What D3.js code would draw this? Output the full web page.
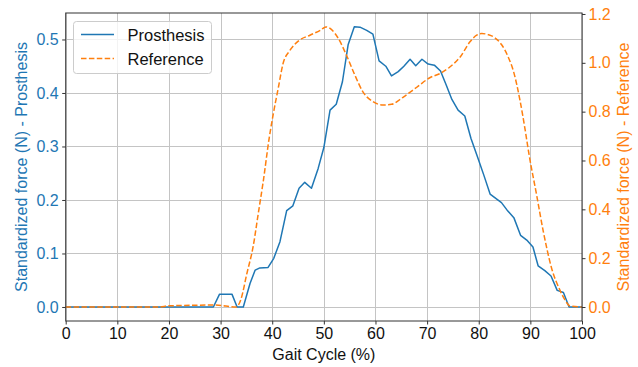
<!DOCTYPE html>
<html>
<head>
<meta charset="utf-8">
<script src="https://cdn.jsdelivr.net/npm/d3@7"></script>
<style>
  html, body { margin: 0; padding: 0; background: #fff; }
  svg { display: block; font-family: "Liberation Sans", Arial, sans-serif; }
</style>
</head>
<body>
<svg id="chart" width="638" height="367"></svg>
<script>
// Gait cycle (%) and standardized force for the prosthesis sensor
const prosGait = [0, 28.6, 29.8, 32.2, 33.2, 34.4, 35.7, 36.7, 37.6, 39.2, 40.3, 41.5, 42.8, 44.0, 45.2,
  46.3, 47.6, 48.9, 50.0, 51.2, 52.4, 53.6, 54.7, 55.9, 57.0, 58.3, 59.5, 60.7, 62.0, 63.1, 64.4, 65.5,
  66.7, 67.8, 69.0, 70.2, 71.4, 72.6, 73.7, 74.8, 76.0, 77.3, 78.5, 79.7, 81.0, 82.2, 84.4, 85.5, 86.8,
  88.1, 89.3, 90.5, 91.5, 92.8, 94.0, 95.2, 96.4, 97.5, 100];
const prosForce = [0, 0, 0.024, 0.024, 0, 0, 0.044, 0.069, 0.073, 0.074, 0.091, 0.122, 0.18, 0.189, 0.222,
  0.233, 0.222, 0.259, 0.298, 0.368, 0.379, 0.421, 0.49, 0.524, 0.523, 0.517, 0.51, 0.46, 0.45, 0.432, 0.44, 0.45,
  0.463, 0.451, 0.463, 0.454, 0.452, 0.441, 0.415, 0.388, 0.368, 0.357, 0.315, 0.282, 0.246, 0.211, 0.195, 0.181, 0.167,
  0.134, 0.125, 0.112, 0.077, 0.068, 0.058, 0.031, 0.027, 0, 0];

// Gait cycle (%) and standardized force for the reference curve
const refGait = [0, 18, 20, 29, 33.0, 33.9, 35.1, 36.3, 37.3, 38.3, 39.4, 40.2, 41.2, 42.1, 43.4, 45.1,
  47.3, 49.3, 50.4, 51.5, 52.8, 54.4, 56.0, 57.6, 59.6, 61.5, 63.1, 65.4, 68.0, 70.6, 72.5, 74.4, 76.4,
  78.3, 79.6, 80.6, 81.9, 83.1, 84.4, 85.7, 86.8, 88.0, 89.0, 89.7, 91.2, 92.5, 94.1, 95.7, 96.7, 97.7, 100];
const refForce = [0, 0, 0.005, 0.008, 0, 0.029, 0.138, 0.247, 0.383, 0.52, 0.69, 0.79, 0.90, 0.997, 1.05, 1.09,
  1.113, 1.133, 1.147, 1.136, 1.10, 1.03, 0.95, 0.88, 0.84, 0.827, 0.83, 0.86, 0.90, 0.94, 0.956, 0.983, 1.024,
  1.086, 1.113, 1.12, 1.115, 1.103, 1.075, 1.024, 0.96, 0.845, 0.724, 0.63, 0.46, 0.31, 0.16, 0.07, 0.029, 0.004, 0];

const xTicks = [0, 10, 20, 30, 40, 50, 60, 70, 80, 90, 100];
const leftTicks = [0, 0.1, 0.2, 0.3, 0.4, 0.5];
const rightTicks = [0, 0.2, 0.4, 0.6, 0.8, 1.0, 1.2];

const seriesNames = ["Prosthesis", "Reference"];
const xLabel = "Gait Cycle (%)";
const leftLabel = "Standardized force (N) - Prosthesis";
const rightLabel = "Standardized force (N) - Reference";

const blue = "#1f77b4", orange = "#ff7f0e";
const m = { left: 65.7, right: 582, top: 13, bottom: 321 };

const svg = d3.select("#chart");

const x = d3.scaleLinear().domain([0, 100]).range([m.left, m.right]);
const yL = d3.scaleLinear().domain([-0.0262, 0.5495]).range([m.bottom, m.top]);
const yR = d3.scaleLinear().domain([-0.0573, 1.204]).range([m.bottom, m.top]);

// grid
const grid = svg.append("g").attr("stroke", "#c4c4c4").attr("stroke-width", 1);
xTicks.forEach(t => grid.append("line")
  .attr("x1", Math.round(x(t)) + 0.5).attr("x2", Math.round(x(t)) + 0.5)
  .attr("y1", m.top).attr("y2", m.bottom));
leftTicks.forEach(t => grid.append("line")
  .attr("x1", m.left).attr("x2", m.right)
  .attr("y1", Math.round(yL(t)) + 0.5).attr("y2", Math.round(yL(t)) + 0.5));

// axes
const fontTick = 16;
const gx = svg.append("g").attr("transform", `translate(0,${m.bottom})`)
  .call(d3.axisBottom(x).tickValues(xTicks).tickSize(3.5).tickPadding(3.5).tickFormat(d3.format("d")));
gx.selectAll("text").attr("fill", "#111").style("font-size", fontTick + "px");

const gl = svg.append("g").attr("transform", `translate(${m.left},0)`)
  .call(d3.axisLeft(yL).tickValues(leftTicks).tickSize(3.5).tickPadding(3.5).tickFormat(d3.format(".1f")));
gl.selectAll("text").attr("fill", blue).style("font-size", fontTick + "px");

const gr = svg.append("g").attr("transform", `translate(${m.right},0)`)
  .call(d3.axisRight(yR).tickValues(rightTicks).tickSize(3.5).tickPadding(3).tickFormat(d3.format(".1f")));
gr.selectAll("text").attr("fill", orange).style("font-size", fontTick + "px");

[gx, gl, gr].forEach(g => {
  g.select(".domain").remove();
  g.selectAll(".tick line").attr("stroke", "#333");
});

// lines
const lineL = d3.line().x(d => x(d[0])).y(d => yL(d[1]));
const lineR = d3.line().x(d => x(d[0])).y(d => yR(d[1])).curve(d3.curveMonotoneX);

svg.append("path").datum(prosGait.map((g, i) => [g, prosForce[i]]))
  .attr("d", lineL).attr("fill", "none").attr("stroke", blue).attr("stroke-width", 1.5)
  .attr("stroke-linejoin", "round");

svg.append("path").datum(refGait.map((g, i) => [g, refForce[i]]))
  .attr("d", lineR).attr("fill", "none").attr("stroke", orange).attr("stroke-width", 1.5)
  .attr("stroke-dasharray", "5.5,2.4");

// frame
svg.append("rect").attr("x", m.left).attr("y", m.top)
  .attr("width", m.right - m.left).attr("height", m.bottom - m.top)
  .attr("fill", "none").attr("stroke", "#333").attr("stroke-width", 1);

// axis titles
svg.append("text").attr("x", (m.left + m.right) / 2).attr("y", 360)
  .attr("text-anchor", "middle").attr("fill", "#111").style("font-size", "16px").text(xLabel);
svg.append("text").attr("transform", `translate(27,${(m.top + m.bottom) / 2}) rotate(-90)`)
  .attr("text-anchor", "middle").attr("fill", blue).style("font-size", "16px").text(leftLabel);
svg.append("text").attr("transform", `translate(629,${(m.top + m.bottom) / 2}) rotate(-90)`)
  .attr("text-anchor", "middle").attr("fill", orange).style("font-size", "16px").text(rightLabel);

// legend
const lg = svg.append("g");
lg.append("rect").attr("x", 73.5).attr("y", 21.5).attr("width", 138).attr("height", 52).attr("rx", 3)
  .attr("fill", "#fff").attr("fill-opacity", 0.8).attr("stroke", "#cccccc");
const entries = [{ name: seriesNames[0], color: blue, dash: null, y: 34.5 },
                 { name: seriesNames[1], color: orange, dash: "5.5,2.4", y: 58.5 }];
entries.forEach(e => {
  lg.append("line").attr("x1", 81).attr("x2", 114).attr("y1", e.y).attr("y2", e.y)
    .attr("stroke", e.color).attr("stroke-width", 1.5).attr("stroke-dasharray", e.dash);
  lg.append("text").attr("x", 127.5).attr("y", e.y + 6).attr("fill", "#111")
    .style("font-size", "16.5px").text(e.name);
});
</script>
</body>
</html>
